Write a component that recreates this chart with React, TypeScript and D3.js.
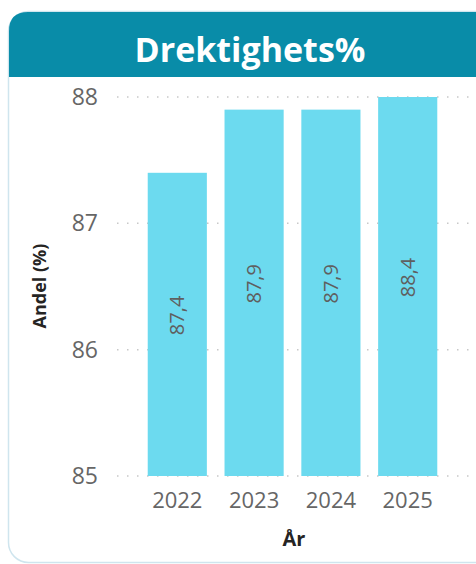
import React, { useEffect, useRef } from 'react';
import * as d3 from 'd3';

const WIDTH = 476;
const HEIGHT = 564;

const years = ['2022', '2023', '2024', '2025'];
const values = [87.4, 87.9, 87.9, 88.4];
const yTicks = [85, 86, 87, 88];

const TITLE = 'Drektighets%';
const X_LABEL = 'År';
const Y_LABEL = 'Andel (%)';

const FONT = '"Open Sans", "Noto Sans", sans-serif';

const App: React.FC = () => {
  const svgRef = useRef<SVGSVGElement>(null);

  useEffect(() => {
    const svg = d3.select(svgRef.current);
    svg.selectAll('*').remove();

    const plotTop = 97;
    const plotBottom = 476;

    // Card
    svg.append('rect')
      .attr('x', 8.5)
      .attr('y', 11.5)
      .attr('width', 500)
      .attr('height', 551)
      .attr('rx', 20)
      .attr('fill', '#fff')
      .attr('stroke', '#cfe5ee')
      .attr('stroke-width', 1.5);

    // Header with rounded top corners
    const hx = 9, hy = 12, hw = 500, hh = 65, r = 19;
    svg.append('path')
      .attr('d', `M${hx},${hy + hh} L${hx},${hy + r} Q${hx},${hy} ${hx + r},${hy} L${hx + hw},${hy} L${hx + hw},${hy + hh} Z`)
      .attr('fill', '#098ca8');

    svg.append('text')
      .attr('x', 250)
      .attr('y', 62)
      .attr('text-anchor', 'middle')
      .style('font-family', FONT)
      .style('font-size', '34px')
      .style('font-weight', 'bold')
      .style('fill', '#fff')
      .text(TITLE);

    const xScale = d3.scaleBand<string>()
      .domain(years)
      .range([117, 468])
      .paddingInner(0.23)
      .paddingOuter(0.4);

    const yScale = d3.scaleLinear()
      .domain([85, 88])
      .range([plotBottom, plotTop]);

    // Dotted gridlines
    svg.append('g')
      .selectAll('line')
      .data(yTicks)
      .enter().append('line')
      .attr('x1', 117)
      .attr('x2', 476)
      .attr('y1', d => yScale(d))
      .attr('y2', d => yScale(d))
      .attr('stroke', '#c8c8c8')
      .attr('stroke-width', 1.5)
      .attr('stroke-dasharray', '1.5 8.5');

    // Y tick labels
    svg.append('g')
      .selectAll('text')
      .data(yTicks)
      .enter().append('text')
      .attr('x', 98)
      .attr('y', d => yScale(d))
      .attr('dy', '0.35em')
      .attr('text-anchor', 'end')
      .style('font-family', FONT)
      .style('font-size', '23px')
      .style('fill', '#666')
      .text(d => d);

    // Bars (clipped to plot area)
    svg.append('clipPath')
      .attr('id', 'plot-clip')
      .append('rect')
      .attr('x', 0)
      .attr('y', plotTop)
      .attr('width', WIDTH)
      .attr('height', plotBottom - plotTop);

    const bars = svg.append('g').attr('clip-path', 'url(#plot-clip)');
    bars.selectAll('rect')
      .data(values)
      .enter().append('rect')
      .attr('x', (_d, i) => xScale(years[i])!)
      .attr('width', xScale.bandwidth())
      .attr('y', d => yScale(d))
      .attr('height', d => plotBottom - yScale(d))
      .attr('fill', '#6cdaef');

    // Value labels
    const fmt = (v: number) => d3.format('.1f')(v).replace('.', ',');
    svg.append('g')
      .selectAll('text')
      .data(values)
      .enter().append('text')
      .attr('transform', (d, i) => {
        const cx = xScale(years[i])! + xScale.bandwidth() / 2;
        const top = Math.max(yScale(d), plotTop);
        const cy = (top + plotBottom) / 2 - 9;
        return `translate(${cx},${cy}) rotate(-90)`;
      })
      .attr('text-anchor', 'middle')
      .attr('dy', '0.35em')
      .style('font-family', FONT)
      .style('font-size', '20px')
      .style('fill', '#5f5f5f')
      .text(d => fmt(d));

    // X tick labels
    svg.append('g')
      .selectAll('text')
      .data(years)
      .enter().append('text')
      .attr('x', d => xScale(d)! + xScale.bandwidth() / 2)
      .attr('y', 508)
      .attr('text-anchor', 'middle')
      .style('font-family', FONT)
      .style('font-size', '22px')
      .style('fill', '#666')
      .text(d => d);

    // Axis titles
    svg.append('text')
      .attr('x', 294)
      .attr('y', 546)
      .attr('text-anchor', 'middle')
      .style('font-family', FONT)
      .style('font-size', '20px')
      .style('font-weight', 'bold')
      .style('fill', '#252423')
      .text(X_LABEL);

    svg.append('text')
      .attr('transform', `translate(46,286) rotate(-90)`)
      .attr('text-anchor', 'middle')
      .style('font-family', FONT)
      .style('font-size', '18px')
      .style('font-weight', 'bold')
      .style('fill', '#252423')
      .text(Y_LABEL);
  }, []);

  return (
    <svg
      ref={svgRef}
      width={WIDTH}
      height={HEIGHT}
      style={{ position: 'absolute', left: 0, top: 0 }}
    />
  );
};

export default App;
